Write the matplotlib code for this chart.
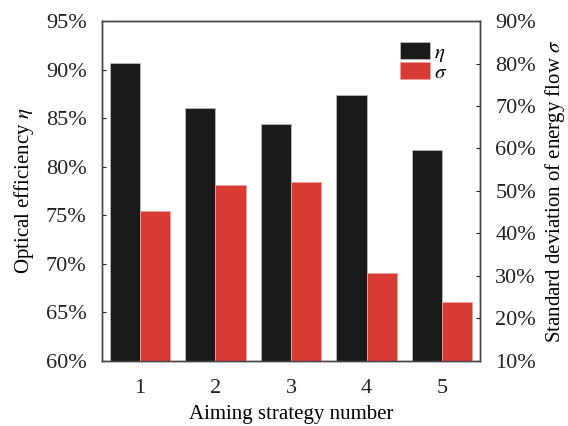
import matplotlib
matplotlib.use("Agg")
import matplotlib.pyplot as plt
import numpy as np
from matplotlib.ticker import FuncFormatter

plt.rcParams['font.family'] = ['Liberation Serif', 'DejaVu Serif']
plt.rcParams['mathtext.fontset'] = 'stix'

strategies = [1, 2, 3, 4, 5]
eta = [90.7, 86.0, 84.4, 87.4, 81.7]      # optical efficiency, %
sigma = [45.2, 51.4, 52.2, 30.6, 23.8]    # std. dev. of energy flow, %

BLACK = "#1a1a1a"
RED = "#d83a34"
W = 0.4

fig = plt.figure(figsize=(5.68, 4.26), dpi=100)
ax = fig.add_axes([0.1796, 0.1526, 0.8451 - 0.1796, 0.9507 - 0.1526])
ax2 = ax.twinx()

x = np.array(strategies, dtype=float)
b1 = ax.bar(x - W / 2, eta, W, color=BLACK, edgecolor="#bbbbbb", linewidth=0.6)
b2 = ax2.bar(x + W / 2, sigma, W, color=RED, edgecolor="#e8a0a0", linewidth=0.6)

ax.set_xlim(0.5, 5.5)
ax.set_ylim(60, 95)
ax2.set_ylim(10, 90)
ax.set_xticks(strategies)
ax.set_yticks(np.arange(60, 96, 5))
ax2.set_yticks(np.arange(10, 91, 10))
pct = FuncFormatter(lambda v, p: f"{v:.0f}%")
ax.yaxis.set_major_formatter(pct)
ax2.yaxis.set_major_formatter(pct)

for a in (ax, ax2):
    a.tick_params(direction="in", length=3, width=0.8, labelsize=16, colors="#222222", pad=11)
    for s in a.spines.values():
        s.set_color("#444444")
        s.set_linewidth(1.0)
ax.tick_params(axis="x", length=0, pad=13)

ax.set_xlabel("Aiming strategy number", fontsize=15, labelpad=5)
ax.set_ylabel(r"Optical efficiency $\eta$", fontsize=15, labelpad=7)
ax2.set_ylabel(r"Standard deviation of energy flow $\sigma$", fontsize=15, labelpad=5)

ax2.legend([b1, b2], [r"$\eta$", r"$\sigma$"], loc="upper right",
           bbox_to_anchor=(0.947, 0.975), frameon=False, fontsize=15,
           handlelength=1.45, handleheight=0.9, labelspacing=-0.1,
           handletextpad=0.2, borderaxespad=0.2)

plt.savefig("out.png", dpi=100)
